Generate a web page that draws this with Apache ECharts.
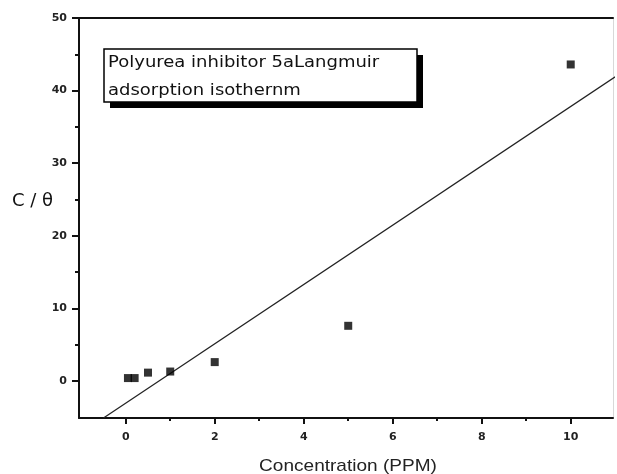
<!DOCTYPE html>
<html>
<head>
<meta charset="utf-8">
<style>
  html, body { margin: 0; padding: 0; background: #fff; }
  #chart { width: 617px; height: 474px; }
</style>
<script src="https://cdn.jsdelivr.net/npm/echarts@6/dist/echarts.min.js"></script>
</head>
<body>
<div id="chart"></div>
<script>
// Measured points: concentration (ppm) vs C/θ
var concentration = [0.05, 0.2, 0.5, 1, 2, 5, 10];
var cOverTheta    = [0.4, 0.4, 1.15, 1.3, 2.6, 7.6, 43.6];

// Fitted Langmuir line, given by its two end points
var fitX = [-0.5, 11];
var fitY = [-5.1, 41.9];

// Tick positions
var xMajorTicks = [0, 2, 4, 6, 8, 10];
var xMinorTicks = [1, 3, 5, 7, 9];
var yMajorTicks = [0, 10, 20, 30, 40, 50];
var yMinorTicks = [5, 15, 25, 35, 45];

var legendLines = ['Polyurea inhibitor 5aLangmuir', 'adsorption isothernm'];
var xTitle = 'Concentration (PPM)';
var yTitle = 'C / θ';

var X_MIN = -1.05, X_MAX = 10.95, Y_MIN = -5.1, Y_MAX = 50;
var labelFont = { color: '#222', fontSize: 11, fontWeight: 'bold', fontFamily: 'DejaVu Sans' };

function pairs(xs, ys) {
  return xs.map(function (x, i) { return [x, ys[i]]; });
}

var chart = echarts.init(document.getElementById('chart'));
chart.setOption({
  animation: false,
  backgroundColor: '#fff',
  grid: { left: 79, right: 4, top: 18, bottom: 56 },
  xAxis: [
    {
      type: 'value', min: X_MIN, max: X_MAX, position: 'bottom',
      axisLine: { show: true, onZero: false, lineStyle: { color: '#111', width: 2 } },
      axisTick: { show: true, length: 6, customValues: xMajorTicks, lineStyle: { color: '#111', width: 2 } },
      axisLabel: Object.assign({ customValues: xMajorTicks, margin: 14 }, labelFont),
      splitLine: { show: false }
    },
    {
      type: 'value', min: X_MIN, max: X_MAX, position: 'bottom',
      axisLine: { show: false, onZero: false },
      axisTick: { show: true, length: 3, customValues: xMinorTicks, lineStyle: { color: '#111', width: 2 } },
      axisLabel: { show: false },
      splitLine: { show: false }
    },
    {
      type: 'value', min: X_MIN, max: X_MAX, position: 'top',
      axisLine: { show: true, onZero: false, lineStyle: { color: '#111', width: 2 } },
      axisTick: { show: false }, axisLabel: { show: false }, splitLine: { show: false }
    }
  ],
  yAxis: [
    {
      type: 'value', min: Y_MIN, max: Y_MAX, position: 'left',
      axisLine: { show: true, onZero: false, lineStyle: { color: '#111', width: 2 } },
      axisTick: { show: true, length: 7, customValues: yMajorTicks, lineStyle: { color: '#111', width: 2 } },
      axisLabel: Object.assign({ customValues: yMajorTicks, margin: 12 }, labelFont),
      splitLine: { show: false }
    },
    {
      type: 'value', min: Y_MIN, max: Y_MAX, position: 'left',
      axisLine: { show: false, onZero: false },
      axisTick: { show: true, length: 4, customValues: yMinorTicks, lineStyle: { color: '#111', width: 2 } },
      axisLabel: { show: false },
      splitLine: { show: false }
    },
    {
      type: 'value', min: Y_MIN, max: Y_MAX, position: 'right',
      axisLine: { show: true, onZero: false, lineStyle: { color: '#d8d8d8', width: 1 } },
      axisTick: { show: false }, axisLabel: { show: false }, splitLine: { show: false }
    }
  ],
  series: [
    {
      type: 'line', data: pairs(fitX, fitY), clip: true,
      showSymbol: false, symbol: 'none',
      lineStyle: { color: '#222', width: 1.3 }, z: 2
    },
    {
      type: 'scatter', data: pairs(concentration, cOverTheta),
      symbol: 'rect', symbolSize: 8,
      itemStyle: { color: '#000' }, z: 3
    }
  ],
  graphic: [
    {
      // axis titles
      type: 'text', x: 12, y: 192,
      style: { text: yTitle, fontSize: 18, fontFamily: 'DejaVu Sans', fill: '#111' }
    },
    {
      type: 'text', x: 348, y: 466, scaleX: 1.12, originX: 0, originY: 0,
      style: {
        text: xTitle, fontSize: 17, fontFamily: 'Liberation Sans', fill: '#222',
        align: 'center', verticalAlign: 'middle'
      }
    },
    // boxed caption with drop shadow
    {
      type: 'rect', shape: { x: 110, y: 55, width: 313, height: 53 },
      style: { fill: '#000' }, z: 10
    },
    {
      type: 'rect', shape: { x: 104, y: 49, width: 313, height: 53 },
      style: { fill: '#fff', stroke: '#000', lineWidth: 1.5 }, z: 11
    },
    {
      type: 'text', x: 108, y: 63, scaleX: 1.2, originX: 0, originY: 0, z: 12,
      style: { text: legendLines[0], fontSize: 15, fontFamily: 'DejaVu Sans', fill: '#111', verticalAlign: 'middle' }
    },
    {
      type: 'text', x: 108, y: 91, scaleX: 1.2, originX: 0, originY: 0, z: 12,
      style: { text: legendLines[1], fontSize: 15, fontFamily: 'DejaVu Sans', fill: '#111', verticalAlign: 'middle' }
    }
  ]
});
</script>
</body>
</html>
